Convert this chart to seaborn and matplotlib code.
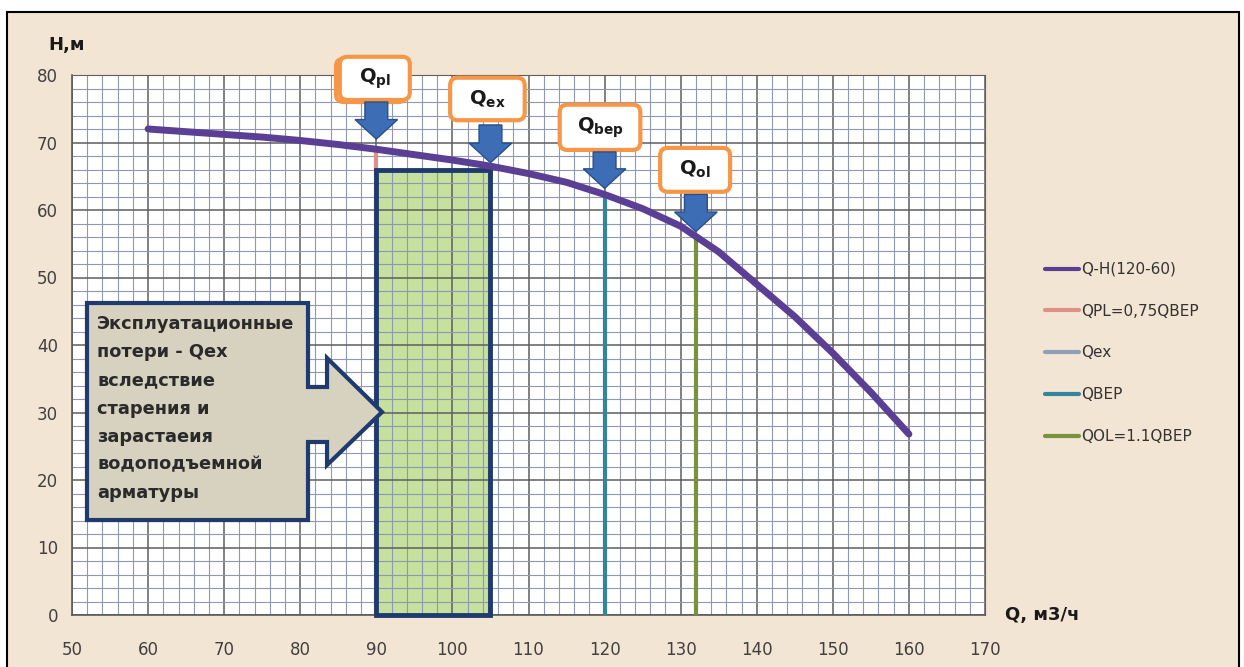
import numpy as np
import pandas as pd
import seaborn as sns
import matplotlib.pyplot as plt
from matplotlib.patches import Rectangle, Polygon, FancyBboxPatch

# pump curve Q-H
q_curve = [60, 65, 70, 75, 80, 85, 90, 95, 100, 105, 110, 115, 120, 125, 130, 135, 140, 145, 150, 155, 160]
h_curve = [72.0, 71.6, 71.2, 70.8, 70.3, 69.7, 69.0, 68.2, 67.4, 66.5, 65.4, 64.1, 62.3, 60.2, 57.6,
           53.8, 49.0, 44.2, 38.8, 33.0, 26.8]

# vertical marker lines
line_labels = ['QPL=0,75QBEP', 'Qex', 'QBEP', 'QOL=1.1QBEP']
line_q = [90, 105, 120, 132]
line_h = [69.0, 66.5, 62.3, 56.0]
line_colors = ['#e0908a', '#8ea0b8', '#31859c', '#77933c']

# operating zone rectangle
zone_q = [90, 105]
zone_h = 66

# arrow labels above curve
arrow_labels = [r'$\mathbf{Q}_{\mathbf{pl}}$', r'$\mathbf{Q}_{\mathbf{ex}}$',
                r'$\mathbf{Q}_{\mathbf{bep}}$', r'$\mathbf{Q}_{\mathbf{ol}}$']

callout_text = ('Эксплуатационные\nпотери - Qex\nвследствие\nстарения и\n'
                'зарастаеия\nводоподъемной\nарматуры')

x_ticks = list(range(50, 171, 10))
y_ticks = list(range(0, 81, 10))

sns.set_style('white')
plt.rcParams['font.family'] = ['DejaVu Sans']

fig = plt.figure(figsize=(12.44, 6.67), dpi=100)
fig.patch.set_facecolor('white')
# beige framed background
fig.patches.append(Rectangle((7 / 1244, -0.05), 1232 / 1244, 1.05 - 12 / 667,
                             transform=fig.transFigure, facecolor='#f3e5d3',
                             edgecolor='black', lw=1.5, zorder=-10))

ax = fig.add_axes([72 / 1244, 52 / 667, 913 / 1244, 540 / 667])
ax.set_facecolor('white')
ax.set_xlim(50, 170)
ax.set_ylim(0, 80)

ax.set_xticks(x_ticks)
ax.set_yticks(y_ticks)
ax.set_xticks(np.arange(50, 171, 2), minor=True)
ax.set_yticks(np.arange(0, 81, 2), minor=True)
ax.grid(which='minor', color='#8f97b2', lw=0.8)
ax.grid(which='major', color='#5e5e5e', lw=1.1)
ax.set_axisbelow('line')
ax.tick_params(which='minor', length=0)
ax.tick_params(axis='x', which='major', length=5, pad=14, colors='#5a5a5a', labelcolor='#404040')
ax.tick_params(axis='y', which='major', length=7, pad=3, colors='#5a5a5a', labelcolor='#404040')
for lab in ax.get_xticklabels() + ax.get_yticklabels():
    lab.set_family(['Liberation Sans Narrow', 'DejaVu Sans'])
    lab.set_fontsize(12)
for s in ['top', 'right']:
    ax.spines[s].set_color('#5e5e5e')
for s in ['left', 'bottom']:
    ax.spines[s].set_color('#5a5a5a')
    ax.spines[s].set_linewidth(1.2)

# green operating zone
ax.add_patch(Rectangle((zone_q[0], 0), zone_q[1] - zone_q[0], zone_h,
                       facecolor='#c6e09e', edgecolor='none', zorder=1))

# curve and vertical lines through seaborn
sns.lineplot(x=q_curve, y=h_curve, color='#5b3f95', lw=5, label='Q-H(120-60)', ax=ax, zorder=4)
for lbl, q, h, c in zip(line_labels, line_q, line_h, line_colors):
    sns.lineplot(x=[q, q], y=[0, h], color=c, lw=3, label=lbl, ax=ax, zorder=3,
                 estimator=None, sort=False)

ax.add_patch(Rectangle((zone_q[0], 0), zone_q[1] - zone_q[0], zone_h,
                       facecolor='none', edgecolor='#1f3b6e', lw=3.5, zorder=3.5, clip_on=False))

# callout box with arrow
poly = [(51.97, 46.22), (81.02, 46.22), (81.02, 33.78), (83.52, 33.78), (83.52, 38.07),
        (90.75, 30.07), (83.52, 22.22), (83.52, 25.63), (81.02, 25.63), (81.02, 14.07),
        (51.97, 14.07)]
ax.add_patch(Polygon(poly, closed=True, facecolor='#d7d1bf', edgecolor='#1f3b6e',
                     lw=3, zorder=5, joinstyle='miter'))
ax.text(53.3, 44.4, callout_text, fontsize=12.8, fontweight='bold', color='#2a2a2a',
        va='top', ha='left', linespacing=1.72, zorder=6)

# label boxes + block arrows
boxes = [(85.2, 76.3, 9.2, 6.4), (99.7, 73.3, 9.8, 6.3), (114.1, 68.9, 10.6, 6.7), (127.3, 62.7, 9.2, 6.5)]
arrows = [(90, 76.0, 70.5), (105, 72.6, 67.0), (120, 68.6, 63.2), (132, 62.3, 56.8)]
asp = (913 / 120) / (540 / 80)
for i, ((bx, by, bw, bh), (axq, y0, y1), txt) in enumerate(zip(boxes, arrows, arrow_labels)):
    if i == 0:
        ax.add_patch(FancyBboxPatch((bx - 0.5, by - 0.3), bw, bh,
                                    boxstyle='round,pad=0,rounding_size=1.0', mutation_aspect=asp,
                                    facecolor='white', edgecolor='#f79646', lw=3, zorder=6, clip_on=False))
    ax.add_patch(FancyBboxPatch((bx, by), bw, bh, boxstyle='round,pad=0,rounding_size=1.0',
                                mutation_aspect=asp, facecolor='white', edgecolor='#f79646',
                                lw=3, zorder=7, clip_on=False))
    ax.text(bx + bw / 2, by + bh / 2, txt, fontsize=14, color='#1a1a1a', ha='center',
            va='center', zorder=8, clip_on=False)
    ax.arrow(axq, y0, 0, y1 - y0, width=3.0, head_width=5.6, head_length=2.9,
             length_includes_head=True, facecolor='#3d6db5', edgecolor='#2a4f8a',
             lw=1, zorder=8, clip_on=False)

ax.set_xlabel('')
ax.set_ylabel('')
fig.text(48 / 1244, 1 - 45 / 667, 'H,м', fontsize=13, fontweight='bold', color='#1a1a1a',
         ha='left', va='center')
fig.text(1005 / 1244, 1 - 615 / 667, 'Q, м3/ч', fontsize=13, fontweight='bold', color='#1a1a1a',
         ha='left', va='center')

leg = ax.legend(loc='upper left', bbox_to_anchor=(1045 / 1244, 1 - 262 / 667),
                bbox_transform=fig.transFigure, frameon=False, fontsize=11,
                labelspacing=1.75, handlelength=2.2, handletextpad=0.15,
                borderpad=0, borderaxespad=0)
for t in leg.get_texts():
    t.set_color('#333333')
for l in leg.get_lines():
    l.set_linewidth(3)

fig.savefig('out.png', dpi=100, facecolor=fig.get_facecolor())
